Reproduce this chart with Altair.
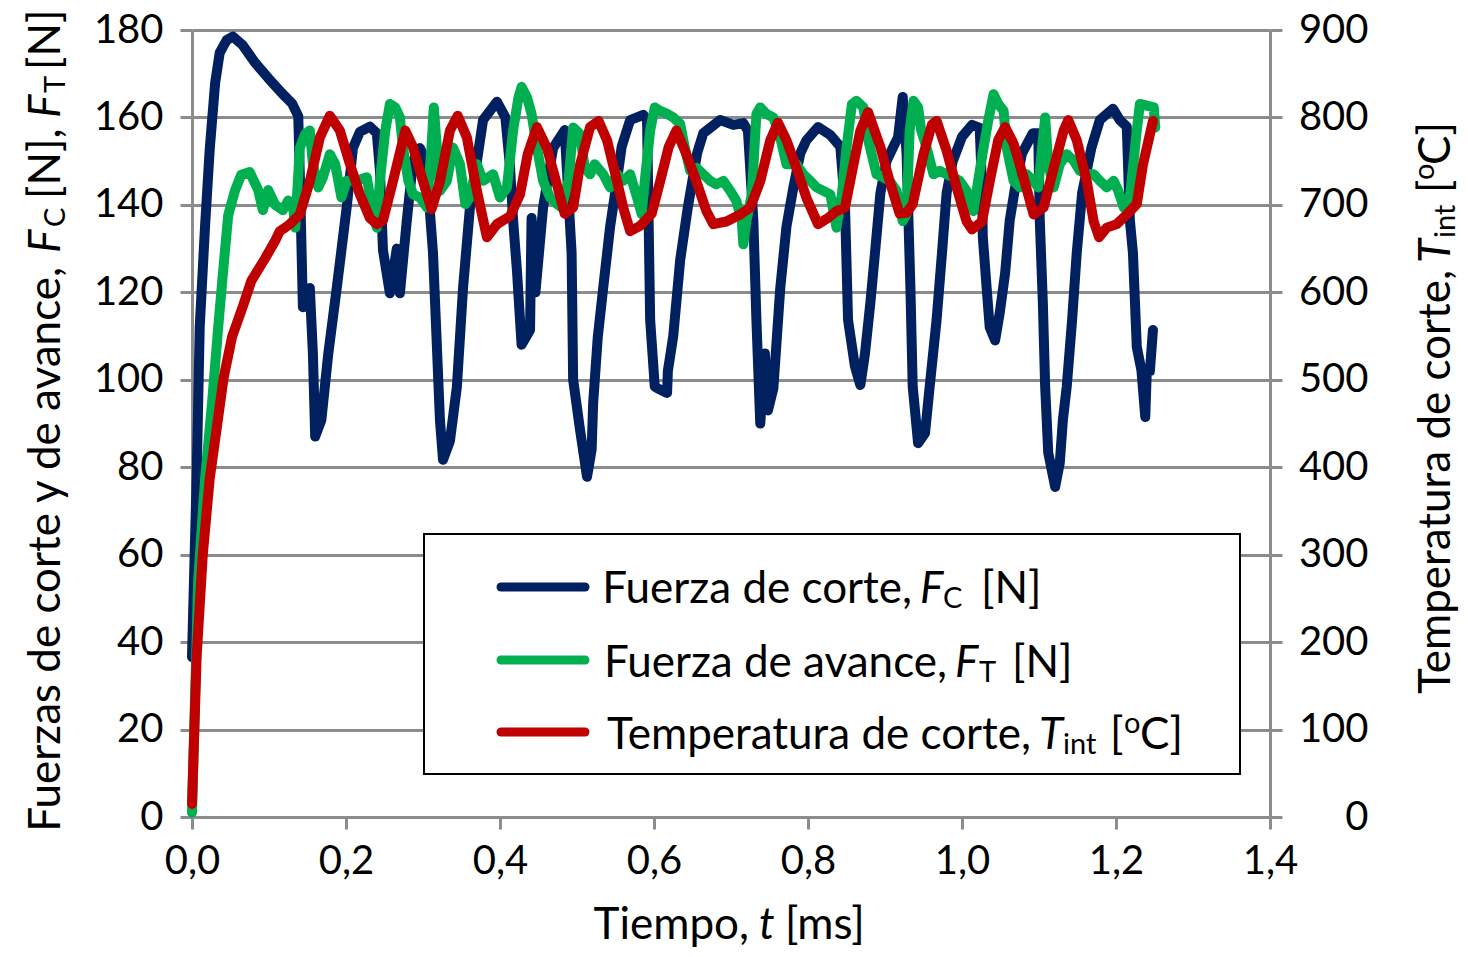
import altair as alt
import pandas as pd

# ---------------- data ----------------
x_ticks = [0.0, 0.2, 0.4, 0.6, 0.8, 1.0, 1.2, 1.4]
yl_ticks = [0, 20, 40, 60, 80, 100, 120, 140, 160, 180]
yr_ticks = [0, 100, 200, 300, 400, 500, 600, 700, 800, 900]

# Fuerza de corte, Fc [N]  -> (t [ms], Fc)
fc_points = [
    (0.000, 36.6), (0.006, 77.3), (0.010, 112), (0.017, 135.3), (0.023, 152.7), (0.030, 167.8),
    (0.036, 174.8), (0.045, 177.7), (0.053, 178.5), (0.066, 176.5), (0.082, 172.5), (0.099, 169),
    (0.117, 165.5), (0.130, 163.2), (0.138, 160.3), (0.140, 147), (0.144, 116.6), (0.153, 121),
    (0.157, 106), (0.160, 87), (0.168, 90.8), (0.177, 106), (0.188, 121), (0.201, 139.6),
    (0.209, 153), (0.218, 156.7), (0.231, 157.9), (0.240, 156.4), (0.244, 148), (0.248, 129.7),
    (0.257, 119.8), (0.266, 130), (0.270, 119.8), (0.279, 136.5), (0.287, 150), (0.296, 153),
    (0.304, 150), (0.313, 129), (0.322, 90.8), (0.326, 81.7), (0.335, 86), (0.344, 98.4),
    (0.352, 121), (0.361, 139.5), (0.370, 150), (0.378, 159.4), (0.396, 163.6), (0.407, 160),
    (0.413, 148.7), (0.417, 136.5), (0.422, 125), (0.428, 108), (0.439, 111.4), (0.441, 137),
    (0.446, 120), (0.456, 139.5), (0.469, 153), (0.484, 157.1), (0.493, 129), (0.495, 100),
    (0.504, 88.5), (0.513, 77.8), (0.519, 84), (0.521, 94.7), (0.527, 109.8), (0.534, 121),
    (0.543, 135), (0.552, 145.7), (0.558, 153.3), (0.569, 159.4), (0.586, 160.6), (0.591, 159.4),
    (0.595, 113.7), (0.601, 98.4), (0.605, 98), (0.617, 97), (0.618, 102), (0.625, 110),
    (0.634, 127.4), (0.644, 139.5), (0.656, 151.8), (0.664, 156.4), (0.686, 159.4), (0.703, 158.3),
    (0.716, 158.7), (0.722, 157), (0.729, 136.5), (0.733, 113.7), (0.738, 90), (0.744, 106),
    (0.748, 93), (0.755, 98), (0.764, 121), (0.772, 135), (0.781, 144), (0.790, 151.8),
    (0.798, 154.8), (0.813, 157.8), (0.829, 156), (0.842, 153.3), (0.848, 140), (0.852, 113.7),
    (0.861, 103), (0.868, 98.8), (0.874, 106), (0.881, 117.6), (0.887, 129), (0.894, 142.7),
    (0.902, 150), (0.910, 153), (0.917, 155.5), (0.923, 164.7), (0.928, 151.8), (0.933, 121),
    (0.936, 98.4), (0.943, 85.5), (0.952, 87.8), (0.958, 98.4), (0.967, 113.7), (0.974, 129),
    (0.980, 142.7), (0.988, 150), (1.000, 155.6), (1.013, 158.3), (1.023, 157.6), (1.026, 144),
    (1.027, 132.7), (1.032, 121), (1.036, 112), (1.043, 109), (1.049, 115.3), (1.056, 124.4),
    (1.062, 136.5), (1.069, 144), (1.078, 151.8), (1.092, 156.4), (1.099, 156.4), (1.101, 136.5),
    (1.105, 117.6), (1.108, 98.4), (1.112, 83.3), (1.121, 75.5), (1.127, 81), (1.131, 90.8),
    (1.136, 98.4), (1.143, 113.7), (1.149, 129), (1.156, 142.7), (1.168, 153), (1.179, 159.4),
    (1.196, 162), (1.205, 159.4), (1.214, 157.9), (1.218, 136.5), (1.222, 129), (1.227, 107.5),
    (1.233, 102.2), (1.238, 91.5), (1.240, 102), (1.244, 102), (1.248, 111.4),
]

# Fuerza de avance, Ft [N] -> (t [ms], Ft)
ft_points = [
    (0.000, 1), (0.008, 54), (0.017, 77.3), (0.026, 94.7), (0.034, 112), (0.041, 126),
    (0.047, 137.6), (0.056, 143.4), (0.064, 146.9), (0.075, 147.5), (0.086, 143.4), (0.092, 138.8),
    (0.099, 143.4), (0.108, 140), (0.118, 138.8), (0.125, 141), (0.131, 140), (0.134, 134.8),
    (0.140, 153), (0.147, 156.2), (0.153, 157), (0.157, 149.3), (0.164, 144), (0.170, 146.3),
    (0.179, 151.6), (0.186, 149.3), (0.194, 141.7), (0.201, 145.5), (0.214, 145.5), (0.227, 146.3),
    (0.235, 137.9), (0.240, 134.8), (0.244, 145.5), (0.251, 157), (0.257, 163.1), (0.264, 162.3),
    (0.270, 160), (0.274, 153.1), (0.281, 145.5), (0.287, 142.4), (0.296, 141.7), (0.305, 139.4),
    (0.311, 153.1), (0.314, 162.3), (0.318, 153.1), (0.322, 143.2), (0.331, 145.5), (0.339, 153.1),
    (0.348, 149.3), (0.355, 140.2), (0.361, 141.7), (0.370, 149.3), (0.378, 145.5), (0.391, 147),
    (0.400, 141.7), (0.409, 144), (0.417, 157), (0.424, 164.6), (0.428, 167), (0.435, 164.6),
    (0.441, 160.8), (0.448, 153.1), (0.456, 145.5), (0.465, 141.7), (0.474, 140.2), (0.480, 139.4),
    (0.489, 145.5), (0.495, 157.7), (0.504, 156.2), (0.510, 148.5), (0.517, 147), (0.523, 149.3),
    (0.534, 147), (0.543, 144), (0.552, 147), (0.560, 145.5), (0.569, 147), (0.578, 141.7),
    (0.584, 137.9), (0.588, 145.5), (0.595, 157), (0.601, 162.3), (0.608, 161.5), (0.617, 160.8),
    (0.625, 160), (0.634, 158.5), (0.640, 153.1), (0.647, 147.8), (0.655, 148.5), (0.664, 147),
    (0.673, 145.5), (0.681, 144.7), (0.690, 145.5), (0.699, 143.2), (0.707, 140.9), (0.714, 136.3),
    (0.716, 131), (0.720, 136.3), (0.727, 142.4), (0.733, 160.8), (0.738, 162.3), (0.746, 160.8),
    (0.755, 160), (0.764, 155.4), (0.772, 149.3), (0.785, 149.3), (0.794, 147), (0.803, 145.5),
    (0.811, 144), (0.820, 143.2), (0.829, 142.4), (0.837, 134.8), (0.844, 142.4), (0.850, 153.1),
    (0.857, 163), (0.863, 163.8), (0.872, 162.3), (0.878, 155), (0.889, 147), (0.898, 146.3),
    (0.906, 145.5), (0.915, 143.2), (0.923, 136.3), (0.928, 137.9), (0.932, 157), (0.937, 163.8),
    (0.943, 162.3), (0.947, 157), (0.954, 153.1), (0.963, 147), (0.971, 147.8), (0.980, 147),
    (0.989, 146.3), (0.997, 145.5), (1.006, 143.2), (1.015, 138.6), (1.021, 145.5), (1.028, 153.1),
    (1.034, 159.2), (1.041, 165.3), (1.047, 163.1), (1.054, 161.5), (1.058, 153.1), (1.067, 145.5),
    (1.075, 144), (1.084, 147), (1.093, 145.5), (1.099, 144), (1.104, 153.1), (1.108, 160),
    (1.112, 149.3), (1.119, 144), (1.127, 149.3), (1.136, 151.6), (1.145, 150.1), (1.153, 147.8),
    (1.162, 147), (1.171, 147), (1.179, 145.5), (1.188, 144), (1.197, 145.5), (1.203, 143.2),
    (1.210, 139.4), (1.218, 141.7), (1.227, 157), (1.231, 163.1), (1.240, 162.7), (1.249, 162.3),
    (1.251, 157.7),
]

# Temperatura de corte, Tint [oC] -> (t [ms], T)
temp_points = [
    (0.000, 15), (0.006, 183), (0.014, 300), (0.023, 387), (0.032, 444), (0.041, 502),
    (0.052, 549), (0.066, 584), (0.077, 613), (0.095, 639), (0.108, 659), (0.114, 670),
    (0.121, 674), (0.127, 678), (0.140, 689), (0.153, 727), (0.166, 777), (0.179, 802),
    (0.192, 785), (0.205, 747), (0.218, 712), (0.231, 685), (0.240, 678), (0.248, 682),
    (0.261, 727), (0.277, 785), (0.287, 766), (0.300, 727), (0.311, 695), (0.322, 727),
    (0.335, 785), (0.345, 802), (0.357, 777), (0.370, 716), (0.383, 663), (0.396, 678),
    (0.413, 687), (0.426, 712), (0.436, 758), (0.448, 789), (0.461, 765), (0.474, 723),
    (0.484, 690), (0.495, 697), (0.504, 746), (0.517, 789), (0.528, 796), (0.539, 774),
    (0.552, 727), (0.560, 697), (0.569, 670), (0.582, 676), (0.597, 690), (0.608, 727),
    (0.619, 766), (0.629, 785), (0.642, 758), (0.655, 727), (0.668, 693), (0.677, 678),
    (0.694, 681), (0.712, 689), (0.725, 697), (0.738, 727), (0.751, 774), (0.761, 794),
    (0.772, 774), (0.785, 742), (0.798, 708), (0.813, 678), (0.826, 685), (0.837, 693),
    (0.848, 697), (0.859, 746), (0.868, 785), (0.878, 806), (0.894, 766), (0.906, 727),
    (0.919, 690), (0.928, 691), (0.936, 701), (0.950, 758), (0.961, 792), (0.967, 796),
    (0.980, 762), (0.993, 720), (1.006, 681), (1.013, 672), (1.026, 681), (1.036, 727),
    (1.047, 774), (1.056, 789), (1.067, 770), (1.080, 731), (1.093, 689), (1.106, 697),
    (1.119, 742), (1.132, 785), (1.138, 797), (1.149, 774), (1.162, 727), (1.171, 681),
    (1.178, 663), (1.188, 674), (1.201, 678), (1.214, 689), (1.227, 701), (1.235, 746),
    (1.248, 796),
]

# ---------------- styling ----------------
W, H = 1078, 787
GRAY = "#8c8c8c"
FONT = "Lato"
C_FC, C_FT, C_T = "#002060", "#00B050", "#C00000"
LBL = 40      # tick label size
TXT = 44      # titles / legend text
SUB = 29      # subscripts
LW = 10       # data line width

df_fc = pd.DataFrame(fc_points, columns=["t", "v"])
df_ft = pd.DataFrame(ft_points, columns=["t", "v"])
df_tp = pd.DataFrame(temp_points, columns=["t", "v"])
one = pd.DataFrame({"k": [0]})

xscale = alt.Scale(domain=[0, 1.4], nice=False, zero=False)
xaxis = alt.Axis(values=x_ticks, labelExpr="replace(format(datum.value, '.1f'), '.', ',')",
                 grid=False, title=None, domainColor=GRAY, domainWidth=3, tickColor=GRAY,
                 tickWidth=3, tickSize=12, labelFontSize=LBL, labelFont=FONT, labelColor="black",
                 labelPadding=12, labelFlush=False, labelOverlap=False)
yl_scale = alt.Scale(domain=[0, 180], nice=False)
yl_axis = alt.Axis(values=yl_ticks, orient="left", grid=True, gridColor=GRAY, gridWidth=3,
                   title=None, domainColor=GRAY, domainWidth=3, tickColor=GRAY, tickWidth=3,
                   tickSize=12, labelFontSize=LBL, labelFont=FONT, labelColor="black",
                   labelPadding=17, labelOverlap=False, labelFlush=False)
yr_scale = alt.Scale(domain=[0, 900], nice=False)
yr_axis = alt.Axis(values=yr_ticks, orient="right", grid=False, title=None, domainColor=GRAY,
                   domainWidth=3, tickColor=GRAY, tickWidth=3, tickSize=12, labelFontSize=LBL,
                   labelFont=FONT, labelColor="black", labelAlign="right", labelPadding=86,
                   labelOverlap=False, labelFlush=False)


def series(df, color, yscale, yaxis):
    return alt.Chart(df).mark_line(color=color, strokeWidth=LW, strokeCap="round",
                                   strokeJoin="round").encode(
        x=alt.X("t:Q", scale=xscale, axis=xaxis),
        y=alt.Y("v:Q", scale=yscale, axis=yaxis),
        order=alt.Order("t:Q"),
    )


forces = alt.layer(series(df_fc, C_FC, yl_scale, yl_axis),
                   series(df_ft, C_FT, yl_scale, yl_axis))
temp = series(df_tp, C_T, yr_scale, yr_axis)


def txt(s, x, y, size=TXT, italic=False, angle=0, align="left"):
    kw = dict(text=s, font=FONT, fontSize=size, align=align, baseline="alphabetic",
              color="black")
    if italic:
        kw["fontStyle"] = "italic"
    if angle:
        kw["angle"] = angle
    return alt.Chart(one).mark_text(**kw).encode(x=alt.value(x), y=alt.value(y))


RX = 1258  # baseline of the rotated right title
texts = [
    # x title
    txt("Tiempo,", 557, 909, align="right"),
    txt("t", 567, 909, italic=True),
    txt("[ms]", 593, 909),
    # left title (rotated)
    txt("Fuerzas de corte y de avance,", -132, 237, angle=270, align="right"),
    txt("F", -132, 223, italic=True, angle=270),
    txt("C", -127, 197, size=SUB, angle=270),
    txt("[N],", -132, 169, angle=270),
    txt("F", -132, 88, italic=True, angle=270),
    txt("T", -127, 63, size=SUB, angle=270),
    txt("[N]", -132, 40, angle=270),
    # right title (rotated)
    txt("Temperatura de corte,", RX, 240, angle=270, align="right"),
    txt("T", RX, 233, italic=True, angle=270),
    txt("int", RX + 5, 208, size=SUB, angle=270),
    txt("[", RX, 163, angle=270),
    txt("o", RX - 16, 150, size=SUB, angle=270),
    txt("C]", RX, 135, angle=270),
]

legend_box = alt.Chart(one).mark_rect(fill="white", stroke="black", strokeWidth=2).encode(
    x=alt.value(232), x2=alt.value(1048), y=alt.value(504), y2=alt.value(744))


def leg_line(color, y):
    return alt.Chart(one).mark_rule(color=color, strokeWidth=9, strokeCap="round").encode(
        x=alt.value(309), x2=alt.value(393), y=alt.value(y))


legend = [
    legend_box,
    leg_line(C_FC, 557), leg_line(C_FT, 630), leg_line(C_T, 702),
    txt("Fuerza de corte,", 720, 573, align="right"),
    txt("F", 728, 573, italic=True),
    txt("C", 751, 578, size=SUB),
    txt("[N]", 789, 573),
    txt("Fuerza de avance,", 755, 647, align="right"),
    txt("F", 763, 647, italic=True),
    txt("T", 787, 652, size=SUB),
    txt("[N]", 820, 647),
    txt("Temperatura de corte,", 839, 719, align="right"),
    txt("T", 847, 719, italic=True),
    txt("int", 871, 724, size=SUB),
    txt("[", 918, 719),
    txt("o", 932, 703, size=SUB),
    txt("C]", 948, 719),
]

chart = alt.layer(forces, temp, *legend, *texts).resolve_scale(y="independent").properties(
    width=W, height=H,
    autosize=alt.AutoSizeParams(type="none"),
    padding={"left": 184, "top": 22, "right": 190, "bottom": 132},
    background="white",
).configure_view(stroke=None)

chart.save("out.html", embed_options={"renderer": "svg", "actions": False})
